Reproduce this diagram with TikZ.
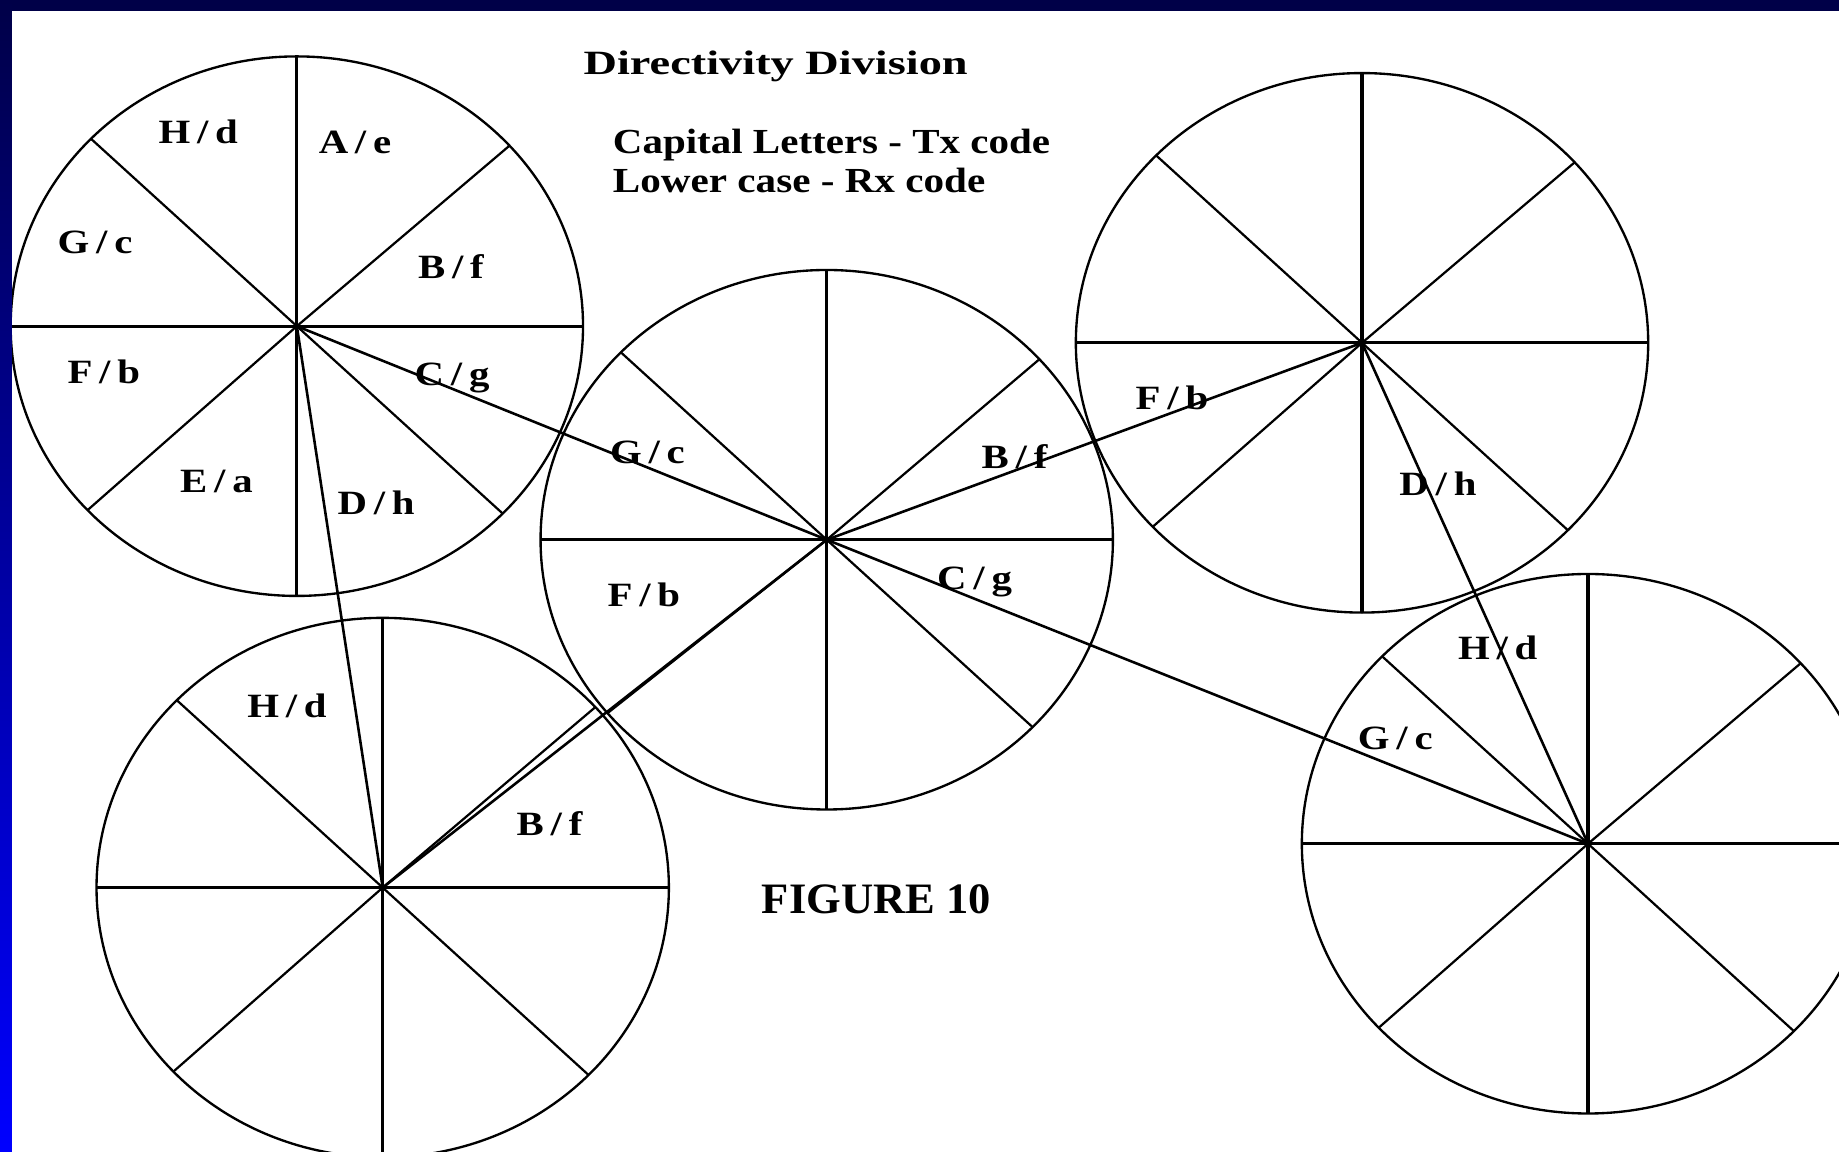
\documentclass[tikz,border=0pt]{standalone}
\usepackage{fontspec}
\setmainfont{Liberation Serif}
\usepackage{graphicx}
\definecolor{blunotte}{RGB}{0,0,72}
\definecolor{bluvivo}{RGB}{0,0,255}
\tikzset{
  cerchio/.style={line width=2pt},
  asse/.style={line width=2.8pt},
  raggio/.style={line width=1.9pt},
  collegamento/.style={line width=2.2pt},
  settore/.style={font=\fontsize{29}{31}\selectfont\bfseries,anchor=base,inner sep=0pt},
  titolo/.style={font=\fontsize{29}{31}\selectfont\bfseries,anchor=base west,inner sep=0pt},
  legenda/.style={font=\fontsize{30}{32}\selectfont\bfseries,anchor=base west,inner sep=0pt},
  didascalia/.style={font=\fontsize{37}{40}\selectfont\bfseries,anchor=base west,inner sep=0pt}
}
\newcommand{\codice}[2]{\scalebox{1.2}[1]{#1\,/\,#2}}
\newcommand{\largo}[2]{\scalebox{#1}[1]{#2}}

\begin{document}
\begin{tikzpicture}[x=1pt,y=-1pt]
\useasboundingbox (0,0) rectangle (1568,982);
\clip (0,0) rectangle (1568,982);
\fill[white] (0,0) rectangle (1568,982);

% cerchi: ellisse, assi e diagonali
\foreach \n/\x/\y/\b in {c1/253.1/278.1/137, c2/704.9/460.2/140,
  c3/1161.3/292.3/137, c4/326.3/756.8/137, c5/1354/719.4/137}{
  \coordinate (\n) at (\x,\y);
  \draw[cerchio] (\n) ellipse [x radius=244, y radius=230];
  \draw[asse] (\n) ++(-244,0) -- ++(488,0);
  \draw[asse] (\n) ++(0,-230) -- ++(0,460);
  \foreach \a in {-42,44,\b,224}
    \draw[raggio] (\n) -- ++(\a:244 and 230);
}

% collegamenti tra i centri
\draw[collegamento] (c1) -- (c2);
\draw[collegamento] (c1) -- (c4);
\draw[collegamento] (c2) -- (c3);
\draw[collegamento] (c2) -- (c5);
\draw[collegamento] (c3) -- (c5);
\draw[collegamento] (c4) -- (c2);

% settori: codice Tx / codice Rx
\foreach \x/\y/\Tx/\Rx [count=\i] in {
  169/122.2/H/d, 302.7/130.7/A/e, 81/216/G/c, 384.5/237.7/B/f,
  88.5/327/F/b, 385.5/328.7/C/g, 184.6/419.7/E/a, 320.7/439/D/h,
  552/395.5/G/c, 865/399.3/B/f, 549/516.7/F/b, 831/502.8/C/g,
  999.3/349.3/F/b, 1226/422.7/D/h,
  244.7/612.1/H/d, 468.6/712.3/B/f,
  1277/562.3/H/d, 1194/639.2/G/c
}{
  \node[settore] (s\i) at (\x,\y) {\codice{\Tx}{\Rx}};
}

% titolo e legenda
\node[titolo] (tit) at (497.4,63.1) {\largo{1.363}{Directivity Division}};
\node[legenda] (tx) at (522.4,130.7) {\largo{1.165}{Capital Letters - Tx code}};
\node[legenda] (rx) at (522.4,164) {\largo{1.169}{Lower case - Rx code}};
\node[didascalia] (fig) at (649.4,778.8) {\largo{1.027}{FIGURE 10}};

% cornice blu
\fill[blunotte] (0,0) rectangle (1568,9.4);
\shade[top color=blunotte,bottom color=bluvivo] (0,0) rectangle (10.2,982);

\end{tikzpicture}
\end{document}
